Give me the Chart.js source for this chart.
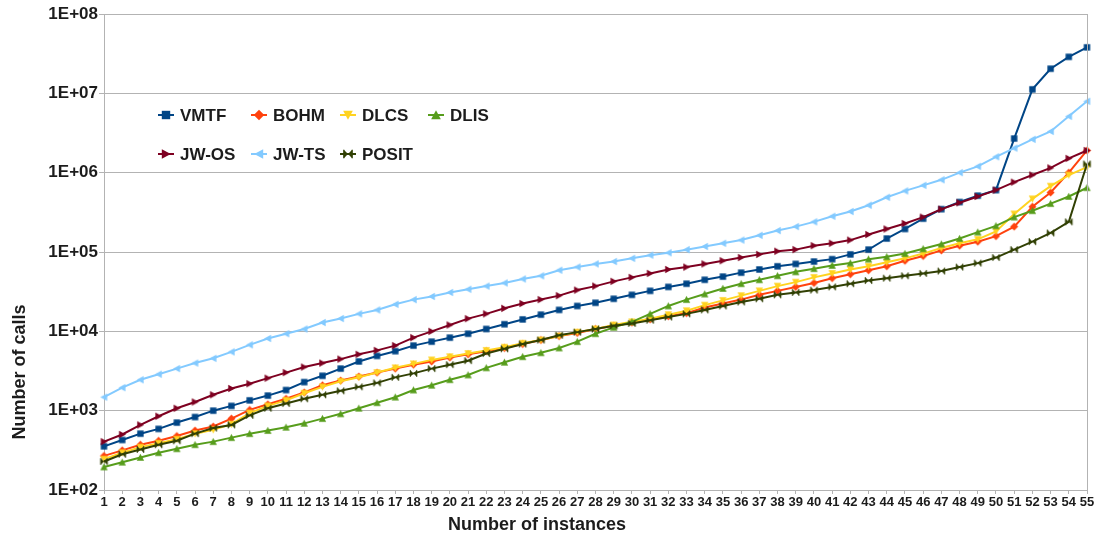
<!DOCTYPE html>
<html><head><meta charset="utf-8">
<script src="https://cdn.jsdelivr.net/npm/chart.js@4/dist/chart.umd.min.js"></script>
<style>html,body{margin:0;padding:0;background:#fff;}#wrap{width:1099px;height:541px;position:relative;}</style>
</head><body><div id="wrap"><canvas id="c" width="1099" height="541"></canvas></div>
<script>
const instances = ['1','2','3','4','5','6','7','8','9','10','11','12','13','14','15','16','17','18','19','20','21','22','23','24','25','26','27','28','29','30','31','32','33','34','35','36','37','38','39','40','41','42','43','44','45','46','47','48','49','50','51','52','53','54','55'];
const yTickValues = [1e2, 1e3, 1e4, 1e5, 1e6, 1e7, 1e8];
const yTickLabels = ['1E+02', '1E+03', '1E+04', '1E+05', '1E+06', '1E+07', '1E+08'];
const seriesNames = ['VMTF', 'BOHM', 'DLCS', 'DLIS', 'JW-OS', 'JW-TS', 'POSIT'];

const vmtf = [355,427,513,589,708,832,1000,1148,1349,1549,1820,2291,2754,3388,4169,4898,5623,6607,7413,8318,9333,10720,12300,14130,16220,18620,20890,22910,25700,28840,32360,36310,39810,44670,48980,54950,60260,66070,70790,75860,81280,93330,107200,147900,195000,263000,346700,426600,512900,602600,2692000,11220000,20420000,28840000,38020000];
const bohm = [269,316,372,417,479,562,631,794,1023,1202,1413,1698,2089,2399,2692,3020,3388,3802,4169,4677,5129,5623,6166,6918,7762,8710,9550,10720,11750,12880,14130,15490,16980,19950,22390,25120,28840,32360,36310,40740,46770,52480,58880,66070,77620,89130,104700,120200,134900,158500,208900,371500,562300,1000000,1905000];
const dlcs = [245,295,347,389,437,513,575,676,933,1148,1349,1660,1995,2344,2630,3020,3467,3890,4365,4786,5248,5754,6310,7079,7762,8710,9772,10720,12020,13180,14450,16220,18200,21380,24550,28180,32360,37150,41690,47860,53700,60260,66070,74130,83180,95500,112200,128800,144500,182000,302000,467700,676100,933300,1175000];
const dlis = [195,224,257,295,331,372,407,457,513,562,617,692,794,912,1072,1259,1479,1820,2089,2455,2818,3467,4074,4786,5370,6166,7413,9333,11220,13180,16600,20890,25120,29510,34670,39810,44670,50120,56230,61660,67610,72440,81280,87100,95500,109600,125900,147900,177800,213800,275400,331100,407400,501200,645700];
const jwos = [407,501,661,851,1072,1288,1585,1905,2188,2570,3020,3548,3981,4467,5129,5754,6607,8318,10000,12020,14450,16600,19500,22390,25120,28180,33110,37150,42660,47860,53700,60260,64570,70790,77620,85110,93330,102300,107200,120200,128800,141300,166000,195000,229100,275400,346700,416900,501200,602600,758600,933300,1148000,1514000,1905000];
const jwts = [1480,1950,2450,2880,3390,3980,4570,5500,6760,8130,9330,10700,12900,14500,16600,18600,21900,25100,27500,30900,33900,37200,40700,45700,50100,58900,64600,70800,75900,83200,91200,97700,107000,117500,128800,141300,162200,186200,208900,239900,281800,323600,389000,489800,588800,691800,812800,1000000,1202000,1585000,2042000,2630000,3311000,5129000,7943000];
const posit = [229,282,324,372,417,513,603,661,871,1072,1230,1413,1585,1778,1995,2239,2630,2951,3388,3802,4266,5248,6026,6918,7762,8913,9772,10720,11750,12590,13800,15140,16600,18620,20890,23440,25700,28840,30900,33110,36310,39810,43650,46770,50120,53700,57540,64570,72440,85110,107200,134900,173800,239900,1288000];

const seriesValues = [vmtf, bohm, dlcs, dlis, jwos, jwts, posit];
const colors = ['#004586', '#ff420e', '#ffd320', '#579d1c', '#7e0021', '#83caff', '#314004'];
const markerKinds = ['square', 'diamond', 'triDown', 'triUp', 'triRight', 'triLeft', 'bowtie'];

const FONT = '"Liberation Sans", Arial, sans-serif';
const TEXT = '#1c1c1c';

function drawMarker(g, kind, x, y, r, color) {
  g.save();
  g.fillStyle = color;
  g.beginPath();
  if (kind === 'square') {
    g.rect(x - r, y - r, 2 * r, 2 * r);
  } else if (kind === 'diamond') {
    g.moveTo(x, y - r * 1.25); g.lineTo(x + r * 1.25, y); g.lineTo(x, y + r * 1.25); g.lineTo(x - r * 1.25, y);
  } else if (kind === 'triUp') {
    g.moveTo(x, y - r * 1.15); g.lineTo(x + r * 1.15, y + r); g.lineTo(x - r * 1.15, y + r);
  } else if (kind === 'triDown') {
    g.moveTo(x, y + r * 1.15); g.lineTo(x + r * 1.15, y - r); g.lineTo(x - r * 1.15, y - r);
  } else if (kind === 'triRight') {
    g.moveTo(x + r * 1.15, y); g.lineTo(x - r, y - r * 1.15); g.lineTo(x - r, y + r * 1.15);
  } else if (kind === 'triLeft') {
    g.moveTo(x - r * 1.15, y); g.lineTo(x + r, y - r * 1.15); g.lineTo(x + r, y + r * 1.15);
  } else if (kind === 'bowtie') {
    g.moveTo(x - r, y - r); g.lineTo(x, y); g.lineTo(x - r, y + r); g.closePath();
    g.moveTo(x + r, y - r); g.lineTo(x, y); g.lineTo(x + r, y + r); g.closePath();
  }
  g.closePath();
  g.fill();
  if (kind === 'bowtie') {
    g.strokeStyle = color; g.lineWidth = 1.2;
    g.beginPath(); g.moveTo(x - r, y - r); g.lineTo(x - r, y + r); g.moveTo(x + r, y - r); g.lineTo(x + r, y + r); g.stroke();
  }
  g.restore();
}

function markerCanvas(kind, color, r) {
  const s = Math.ceil(2 * r * 1.3) + 2;
  const c = document.createElement('canvas');
  c.width = s; c.height = s;
  drawMarker(c.getContext('2d'), kind, s / 2, s / 2, r, color);
  return c;
}

const datasets = seriesNames.map((name, i) => ({
  label: name,
  data: seriesValues[i],
  borderColor: colors[i],
  backgroundColor: colors[i],
  borderWidth: 2,
  pointStyle: markerCanvas(markerKinds[i], colors[i], 3.2),
  pointRadius: 4,
  tension: 0,
  order: 7 - i
}));

// legend layout (positions only)
const legendRows = [[0, 1, 2, 3], [4, 5, 6]];
const legendTextX = [180, 273, 362, 450];
const legendRowY = [115, 154];

const overlay = {
  id: 'overlay',
  afterDraw(chart) {
    const g = chart.ctx;
    const a = chart.chartArea;
    g.save();
    g.strokeStyle = '#b3b3b3'; g.lineWidth = 1;
    g.beginPath(); g.moveTo(Math.round(a.right) + 0.5, a.top); g.lineTo(Math.round(a.right) + 0.5, a.bottom); g.stroke();
    g.fillStyle = TEXT;
    g.font = 'bold 18px ' + FONT;
    g.textAlign = 'center'; g.textBaseline = 'middle';
    g.fillText('Number of instances', 537, 525);
    g.save(); g.translate(20, 372); g.rotate(-Math.PI / 2); g.fillText('Number of calls', 0, 0); g.restore();
    g.font = 'bold 17px ' + FONT;
    g.textAlign = 'left';
    legendRows.forEach((row, ri) => {
      row.forEach((si, ci) => {
        const tx = legendTextX[ci];
        const y = legendRowY[ri];
        g.strokeStyle = colors[si]; g.lineWidth = 2;
        g.beginPath(); g.moveTo(tx - 22, y); g.lineTo(tx - 6, y); g.stroke();
        drawMarker(g, markerKinds[si], tx - 14, y, 4.2, colors[si]);
        g.fillStyle = TEXT;
        g.fillText(seriesNames[si], tx, y + 1);
      });
    });
    g.restore();
  }
};

new Chart(document.getElementById('c'), {
  type: 'line',
  data: { labels: instances, datasets },
  options: {
    responsive: false,
    animation: false,
    layout: { padding: { top: 14, right: 12, left: 0, bottom: 0 } },
    plugins: { legend: { display: false }, tooltip: { enabled: false } },
    scales: {
      x: {
        type: 'category',
        offset: false,
        grid: { display: true, drawOnChartArea: false, drawTicks: true, tickLength: 4, color: '#b3b3b3' },
        border: { display: true, color: '#b3b3b3' },
        ticks: { autoSkip: false, maxRotation: 0, minRotation: 0, padding: 1, color: TEXT, font: { family: FONT, size: 13, weight: 'bold' } },
        afterFit(s) { s.height = 51; }
      },
      y: {
        type: 'logarithmic',
        min: 100, max: 1e8,
        afterBuildTicks(s) { s.ticks = yTickValues.map(v => ({ value: v })); },
        grid: { color: '#b3b3b3', tickLength: 5, lineWidth: 1 },
        border: { display: true, color: '#b3b3b3' },
        ticks: {
          padding: 1, color: TEXT, font: { family: FONT, size: 17, weight: 'bold' },
          callback(v) { const k = yTickValues.indexOf(v); return k >= 0 ? yTickLabels[k] : ''; }
        },
        afterFit(s) { s.width = 104; }
      }
    }
  },
  plugins: [overlay]
});
</script></body></html>
